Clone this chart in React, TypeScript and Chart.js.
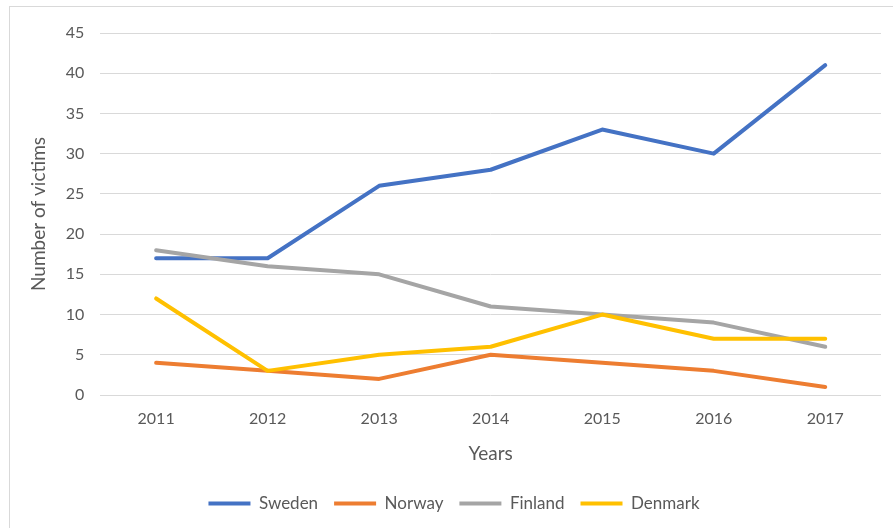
import React, { useEffect, useRef } from "react";
import { Chart, registerables } from "chart.js";

Chart.register(...registerables);

const years = ["2011", "2012", "2013", "2014", "2015", "2016", "2017"];
const sweden = [17, 17, 26, 28, 33, 30, 41];
const norway = [4, 3, 2, 5, 4, 3, 1];
const finland = [18, 16, 15, 11, 10, 9, 6];
const denmark = [12, 3, 5, 6, 10, 7, 7];

const FONT = "Lato, 'Open Sans', sans-serif";
const TEXT = "#595959";

export default function App() {
  const ref = useRef<HTMLCanvasElement | null>(null);
  useEffect(() => {
    if (!ref.current) return;
    const mk = (label: string, data: number[], color: string, order: number) => ({
      label,
      data,
      order,
      borderColor: color,
      backgroundColor: color,
      borderWidth: 4,
      pointRadius: 0,
      tension: 0,
      borderCapStyle: "round" as const,
      borderJoinStyle: "round" as const,
    });
    const chart = new Chart(ref.current, {
      type: "line",
      data: {
        labels: years,
        datasets: [
          mk("Sweden", sweden, "#4472C4", 3),
          mk("Norway", norway, "#ED7D31", 2),
          mk("Finland", finland, "#A5A5A5", 1),
          mk("Denmark", denmark, "#FFC000", 0),
        ],
      },
      options: {
        animation: false,
        responsive: false,
        maintainAspectRatio: false,
        layout: { padding: { top: 33, right: 12, bottom: 6, left: 27 } },
        plugins: {
          tooltip: { enabled: false },
          legend: {
            position: "bottom",
            labels: {
              color: TEXT,
              font: { family: FONT, size: 17 },
              usePointStyle: true,
              pointStyle: "line",
              pointStyleWidth: 42,
              padding: 16,
              sort: (a: any, b: any) => a.datasetIndex - b.datasetIndex,
            },
          },
        },
        scales: {
          x: {
            offset: true,
            grid: { display: false, drawTicks: false },
            border: { display: false },
            ticks: { color: TEXT, font: { family: FONT, size: 16 }, padding: 14 },
            title: {
              display: true,
              text: "Years",
              color: TEXT,
              font: { family: FONT, size: 19 },
              padding: { top: 0, bottom: 14 },
            },
          },
          y: {
            min: 0,
            max: 45,
            ticks: { stepSize: 5, color: TEXT, font: { family: FONT, size: 16 }, padding: 16 },
            grid: { color: "#d9d9d9", lineWidth: 1, drawTicks: false },
            border: { display: false },
            title: {
              display: true,
              text: "Number of victims",
              color: TEXT,
              font: { family: FONT, size: 19 },
              padding: { top: 0, bottom: 0 },
            },
          },
        },
      },
    });
    return () => chart.destroy();
  }, []);
  return (
    <div style={{ position: "absolute", left: 0, top: 0, width: 893, height: 528, background: "#fff" }}>
      <div
        style={{
          position: "absolute",
          left: 9,
          top: 6,
          width: 900,
          height: 540,
          border: "1px solid #d9d9d9",
          boxSizing: "border-box",
        }}
      />
      <canvas ref={ref} width={893} height={528} style={{ position: "absolute", left: 0, top: 0 }} />
    </div>
  );
}
